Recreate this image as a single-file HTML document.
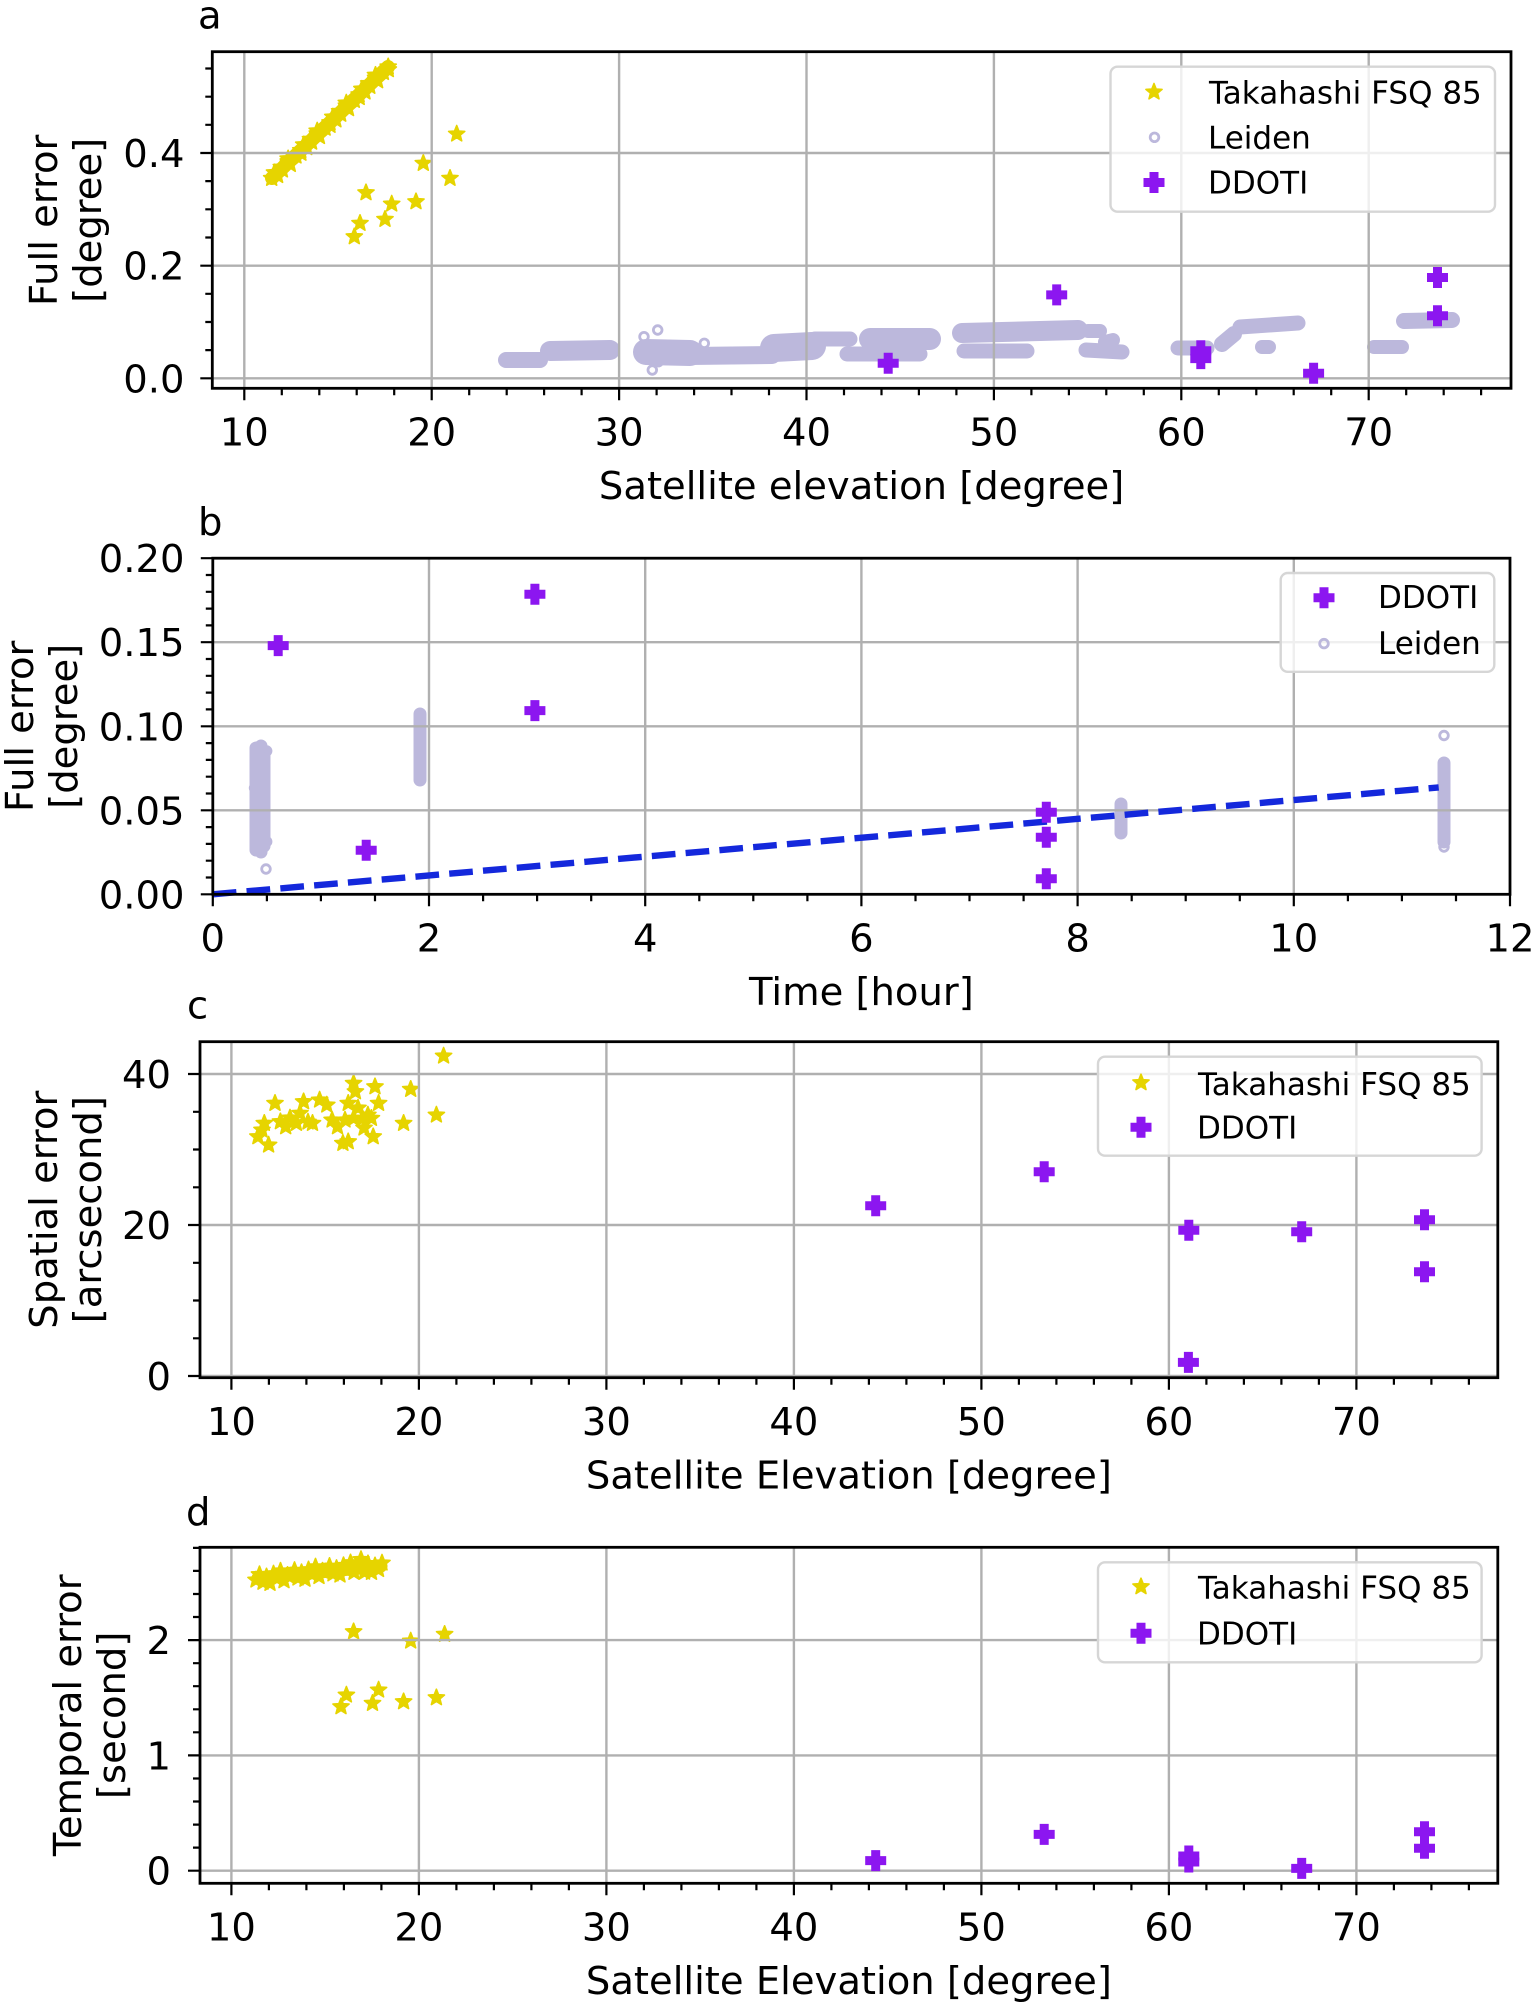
<!DOCTYPE html>
<html><head><meta charset="utf-8"><style>
html,body{margin:0;padding:0;background:#fff}
svg{display:block}
text{font-family:"DejaVu Sans","Liberation Sans",sans-serif;fill:#000}
.tl{font-size:38.5px}
.al{font-size:38.5px}
.lg{font-size:31px}
.g{stroke:#b0b0b0;stroke-width:2.4;fill:none}
.sp{stroke:#000;stroke-width:2.8;fill:none}
.tk{stroke:#000;stroke-width:2.2;fill:none}
.lb{stroke:#bcb8dc;stroke-width:13;stroke-linecap:round;stroke-linejoin:round;fill:none}
.lgb{fill:#fff;fill-opacity:0.8;stroke:#d6d6d6;stroke-width:2.4}
</style></head><body>
<svg width="1533" height="2005" viewBox="0 0 1533 2005" xmlns="http://www.w3.org/2000/svg">
<defs>
<polygon id="st" points="0,-8.5 2.17,-2.99 8.08,-2.63 3.52,1.14 5,6.88 0,3.7 -5,6.88 -3.52,1.14 -8.08,-2.63 -2.17,-2.99" fill="#e6d400" stroke="#e6d400" stroke-width="1.6" stroke-linejoin="round"/>
<path id="pl" d="M-4,-10H4V-4H10V4H4V10H-4V4H-10V-4H-4Z" fill="#8c16f0" stroke="#8c16f0" stroke-width="1"/>
<circle id="rg" r="4.3" fill="none" stroke="#bcb8dc" stroke-width="2.8"/>
</defs>
<rect width="1533" height="2005" fill="#fff"/>

<!-- ================= PANEL A ================= -->
<text class="al" x="198" y="28.3">a</text>
<path d="M272,178 L388,67" stroke="#e6d400" stroke-width="14" stroke-linecap="round" fill="none"/>
<g>
<use href="#st" x="271.7" y="178.3"/><use href="#st" x="277.6" y="175.5"/><use href="#st" x="274.5" y="172.7"/><use href="#st" x="282.4" y="169.9"/><use href="#st" x="281.3" y="167.2"/><use href="#st" x="290.3" y="164.4"/><use href="#st" x="288.2" y="161.6"/><use href="#st" x="288.1" y="158.8"/><use href="#st" x="296" y="156"/><use href="#st" x="300.9" y="153.2"/><use href="#st" x="300.8" y="150.4"/><use href="#st" x="306.7" y="147.6"/><use href="#st" x="303.7" y="144.8"/><use href="#st" x="311.6" y="142.1"/><use href="#st" x="310.5" y="139.3"/><use href="#st" x="319.4" y="136.5"/><use href="#st" x="317.3" y="133.7"/><use href="#st" x="317.2" y="130.9"/><use href="#st" x="325.1" y="128.1"/><use href="#st" x="330" y="125.3"/><use href="#st" x="330" y="122.6"/><use href="#st" x="335.9" y="119.8"/><use href="#st" x="332.8" y="117"/><use href="#st" x="340.7" y="114.2"/><use href="#st" x="339.6" y="111.4"/><use href="#st" x="348.5" y="108.6"/><use href="#st" x="346.4" y="105.8"/><use href="#st" x="346.3" y="103"/><use href="#st" x="354.3" y="100.3"/><use href="#st" x="359.2" y="97.5"/><use href="#st" x="359.1" y="94.7"/><use href="#st" x="365" y="91.9"/><use href="#st" x="361.9" y="89.1"/><use href="#st" x="369.8" y="86.3"/><use href="#st" x="368.7" y="83.5"/><use href="#st" x="377.6" y="80.7"/><use href="#st" x="375.6" y="77.9"/><use href="#st" x="375.5" y="75.2"/><use href="#st" x="383.4" y="72.4"/><use href="#st" x="388.3" y="69.6"/><use href="#st" x="388.2" y="66.8"/>
<use href="#st" x="354.3" y="236.7"/><use href="#st" x="360" y="223.3"/><use href="#st" x="366" y="192.7"/><use href="#st" x="385" y="219.3"/><use href="#st" x="391.7" y="204"/><use href="#st" x="416" y="201.7"/><use href="#st" x="423.3" y="163.3"/><use href="#st" x="450" y="178.3"/><use href="#st" x="456.7" y="134"/>
</g>
<!-- Leiden a -->
<g class="lb">
<path d="M506,360 L540,360" style="stroke-width:16"/>
<path d="M550,351 L610,350" style="stroke-width:20"/>
<path d="M646,352 L690,353" style="stroke-width:26"/>
<path d="M690,356 L772,355" style="stroke-width:18"/>
<path d="M774,348 L812,346" style="stroke-width:28"/>
<path d="M815,339 L850,339" style="stroke-width:15"/>
<path d="M847,354 L920,354" style="stroke-width:15"/>
<path d="M870,339 L930,339" style="stroke-width:22"/>
<path d="M964,351 L1027,351" style="stroke-width:15"/>
<path d="M962,333 L1078,330" style="stroke-width:20"/>
<path d="M1088,331 L1100,331" style="stroke-width:14"/>
<path d="M1086,350 L1122,352" style="stroke-width:15"/>
<path d="M1105,342 L1113,340" style="stroke-width:14"/>
<path d="M1178,348 L1207,348" style="stroke-width:15"/>
<path d="M1222,344 L1234,334" style="stroke-width:16"/>
<path d="M1240,327 L1298,323" style="stroke-width:15"/>
<path d="M1262,347 L1269,347" style="stroke-width:14"/>
<path d="M1374,347 L1402,347" style="stroke-width:14"/>
<path d="M1404,321 L1452,320" style="stroke-width:16"/>
</g>
<use href="#rg" x="644" y="336.7"/><use href="#rg" x="657.7" y="330"/><use href="#rg" x="704.3" y="343.3"/><use href="#rg" x="652.3" y="370"/><use href="#rg" x="658.3" y="361.7"/>
<path class="g" d="M244.3,51.7V388.3M431.7,51.7V388.3M619.1,51.7V388.3M806.5,51.7V388.3M993.9,51.7V388.3M1181.3,51.7V388.3M1368.7,51.7V388.3M212.3,378.3H1511M212.3,265.7H1511M212.3,153H1511"/>
<use href="#pl" x="888.2" y="363.3"/><use href="#pl" x="1056.7" y="294.9"/><use href="#pl" x="1200.8" y="350.7"/><use href="#pl" x="1200.8" y="358.6"/><use href="#pl" x="1313.6" y="373.2"/><use href="#pl" x="1437.5" y="277.5"/><use href="#pl" x="1437.5" y="315.8"/>
<rect class="sp" x="212.3" y="51.7" width="1298.7" height="336.6"/>
<path class="tk" d="M200.3,378.3H212.3M200.3,265.7H212.3M200.3,153H212.3M205.3,350.1H212.3M205.3,322H212.3M205.3,293.8H212.3M205.3,237.5H212.3M205.3,209.3H212.3M205.3,181.1H212.3M205.3,124.8H212.3M205.3,96.7H212.3M205.3,68.5H212.3
M244.3,388.3V400.3M431.7,388.3V400.3M619.1,388.3V400.3M806.5,388.3V400.3M993.9,388.3V400.3M1181.3,388.3V400.3M1368.7,388.3V400.3
M281.8,388.3V395.3M319.3,388.3V395.3M356.7,388.3V395.3M394.2,388.3V395.3M469.2,388.3V395.3M506.7,388.3V395.3M544.1,388.3V395.3M581.6,388.3V395.3M656.6,388.3V395.3M694.1,388.3V395.3M731.5,388.3V395.3M769,388.3V395.3M844,388.3V395.3M881.5,388.3V395.3M918.9,388.3V395.3M956.4,388.3V395.3M1031.4,388.3V395.3M1068.9,388.3V395.3M1106.3,388.3V395.3M1143.8,388.3V395.3M1218.8,388.3V395.3M1256.3,388.3V395.3M1293.7,388.3V395.3M1331.2,388.3V395.3M1406.2,388.3V395.3M1443.7,388.3V395.3M1481.1,388.3V395.3"/>
<g class="tl" text-anchor="end">
<text x="184.5" y="392.3">0.0</text><text x="184.5" y="279.7">0.2</text><text x="184.5" y="167">0.4</text>
</g>
<g class="tl" text-anchor="middle">
<text x="244.3" y="445.7">10</text><text x="431.7" y="445.7">20</text><text x="619.1" y="445.7">30</text><text x="806.5" y="445.7">40</text><text x="993.9" y="445.7">50</text><text x="1181.3" y="445.7">60</text><text x="1368.7" y="445.7">70</text>
</g>
<text class="al" x="861.6" y="499" text-anchor="middle">Satellite elevation [degree]</text>
<text class="al" text-anchor="middle" transform="translate(57,220.3) rotate(-90)">Full error</text>
<text class="al" text-anchor="middle" transform="translate(101,220.3) rotate(-90)">[degree]</text>
<rect class="lgb" x="1110.5" y="66.7" width="384.5" height="145" rx="7"/>
<use href="#st" x="1154" y="92"/><use href="#rg" x="1154.5" y="137.3"/><use href="#pl" x="1154" y="182.5"/>
<text class="lg" x="1209" y="103.3">Takahashi FSQ 85</text>
<text class="lg" x="1208" y="148.5">Leiden</text>
<text class="lg" x="1208" y="193.5">DDOTI</text>

<!-- ================= PANEL B ================= -->
<text class="al" x="198" y="535">b</text>
<path class="lb" d="M256,748 L256,850 M264,752 L264,846 M261,746 L261,852 M420,714 L420,780 M1121,804 L1121,833 M1444,763 L1444,842"/>
<use href="#rg" x="266.7" y="751"/><use href="#rg" x="266.7" y="841.6"/><use href="#rg" x="266" y="869"/><use href="#rg" x="254.5" y="788"/><use href="#rg" x="1444" y="735.5"/><use href="#rg" x="1444" y="847"/>
<path class="g" d="M429,558.2V894.3M645.2,558.2V894.3M861.4,558.2V894.3M1077.6,558.2V894.3M1293.8,558.2V894.3M212.8,810.3H1510M212.8,726.3H1510M212.8,642.2H1510"/>
<line x1="212.8" y1="894.3" x2="1438.7" y2="787.4" stroke="#1428dc" stroke-width="6.4" stroke-dasharray="23.7 10.2"/>
<use href="#pl" x="278.2" y="645.6"/><use href="#pl" x="366.2" y="850.3"/><use href="#pl" x="534.9" y="594.3"/><use href="#pl" x="534.9" y="710.6"/><use href="#pl" x="1046.3" y="812.3"/><use href="#pl" x="1046.3" y="837.3"/><use href="#pl" x="1046.3" y="878.8"/>
<rect class="sp" x="212.8" y="558.2" width="1297.2" height="336.1"/>
<path class="tk" d="M200.8,894.3H212.8M200.8,810.3H212.8M200.8,726.3H212.8M200.8,642.2H212.8M200.8,558.2H212.8
M205.8,877.5H212.8M205.8,860.7H212.8M205.8,843.9H212.8M205.8,827.1H212.8M205.8,793.5H212.8M205.8,776.7H212.8M205.8,759.9H212.8M205.8,743.1H212.8M205.8,709.4H212.8M205.8,692.6H212.8M205.8,675.8H212.8M205.8,659H212.8M205.8,625.4H212.8M205.8,608.6H212.8M205.8,591.8H212.8M205.8,575H212.8
M212.8,894.3V906.3M429,894.3V906.3M645.2,894.3V906.3M861.4,894.3V906.3M1077.6,894.3V906.3M1293.8,894.3V906.3M1510,894.3V906.3
M266.9,894.3V901.3M320.9,894.3V901.3M375,894.3V901.3M483.1,894.3V901.3M537.1,894.3V901.3M591.2,894.3V901.3M699.3,894.3V901.3M753.3,894.3V901.3M807.4,894.3V901.3M915.5,894.3V901.3M969.5,894.3V901.3M1023.6,894.3V901.3M1131.7,894.3V901.3M1185.7,894.3V901.3M1239.8,894.3V901.3M1347.9,894.3V901.3M1401.9,894.3V901.3M1456,894.3V901.3"/>
<g class="tl" text-anchor="end">
<text x="184.5" y="908.3">0.00</text><text x="184.5" y="824.3">0.05</text><text x="184.5" y="740.3">0.10</text><text x="184.5" y="656.2">0.15</text><text x="184.5" y="572.2">0.20</text>
</g>
<g class="tl" text-anchor="middle">
<text x="212.8" y="951.7">0</text><text x="429" y="951.7">2</text><text x="645.2" y="951.7">4</text><text x="861.4" y="951.7">6</text><text x="1077.6" y="951.7">8</text><text x="1293.8" y="951.7">10</text><text x="1510" y="951.7">12</text>
</g>
<text class="al" x="861.4" y="1005" text-anchor="middle">Time [hour]</text>
<text class="al" text-anchor="middle" transform="translate(33,726.3) rotate(-90)">Full error</text>
<text class="al" text-anchor="middle" transform="translate(77,726.3) rotate(-90)">[degree]</text>
<rect class="lgb" x="1280.7" y="573" width="213.6" height="98.8" rx="7"/>
<use href="#pl" x="1324" y="597.8"/><use href="#rg" x="1324" y="643.6"/>
<text class="lg" x="1378" y="608">DDOTI</text>
<text class="lg" x="1378" y="654">Leiden</text>

<!-- ================= PANEL C ================= -->
<text class="al" x="187" y="1018.3">c</text>
<g>
<use href="#st" x="257.9" y="1136.7"/><use href="#st" x="264.3" y="1123.3"/><use href="#st" x="268.6" y="1145"/><use href="#st" x="275" y="1103.3"/><use href="#st" x="280.4" y="1121.7"/><use href="#st" x="285.7" y="1126.7"/><use href="#st" x="296.4" y="1123.3"/><use href="#st" x="300" y="1113.3"/><use href="#st" x="303.6" y="1101.7"/><use href="#st" x="312.5" y="1123.3"/><use href="#st" x="319.6" y="1100"/><use href="#st" x="326.8" y="1105"/><use href="#st" x="332.1" y="1120"/><use href="#st" x="337.5" y="1126.7"/><use href="#st" x="342.9" y="1143.3"/><use href="#st" x="348.2" y="1141.7"/><use href="#st" x="348.2" y="1103.3"/><use href="#st" x="353.6" y="1083.3"/><use href="#st" x="355.4" y="1091.7"/><use href="#st" x="353.6" y="1118.3"/><use href="#st" x="362.5" y="1118.3"/><use href="#st" x="367.9" y="1115"/><use href="#st" x="373.2" y="1136.7"/><use href="#st" x="375" y="1086.7"/><use href="#st" x="378.6" y="1103.3"/><use href="#st" x="371.4" y="1118.3"/><use href="#st" x="403.6" y="1123.3"/><use href="#st" x="410.7" y="1089.3"/><use href="#st" x="436.4" y="1115"/><use href="#st" x="443.6" y="1056"/>
<use href="#st" x="262" y="1130"/><use href="#st" x="290" y="1118"/><use href="#st" x="308" y="1122"/><use href="#st" x="345" y="1120"/><use href="#st" x="358" y="1108"/><use href="#st" x="364" y="1128"/>
</g>
<path class="g" d="M231.4,1041.7V1377.7M418.9,1041.7V1377.7M606.4,1041.7V1377.7M793.9,1041.7V1377.7M981.4,1041.7V1377.7M1168.9,1041.7V1377.7M1356.4,1041.7V1377.7M200,1376H1497.8M200,1225H1497.8M200,1074H1497.8"/>
<use href="#pl" x="875.7" y="1205.7"/><use href="#pl" x="1044.2" y="1171.7"/><use href="#pl" x="1188.8" y="1230.3"/><use href="#pl" x="1188.4" y="1362.4"/><use href="#pl" x="1301.7" y="1231.8"/><use href="#pl" x="1424.5" y="1219.7"/><use href="#pl" x="1424.5" y="1271.8"/>
<rect class="sp" x="200" y="1041.7" width="1297.8" height="336"/>
<path class="tk" d="M188,1376H200M188,1225H200M188,1074H200M193,1338.3H200M193,1300.5H200M193,1262.8H200M193,1187.3H200M193,1149.5H200M193,1111.8H200
M231.4,1377.7V1389.7M418.9,1377.7V1389.7M606.4,1377.7V1389.7M793.9,1377.7V1389.7M981.4,1377.7V1389.7M1168.9,1377.7V1389.7M1356.4,1377.7V1389.7
M268.9,1377.7V1384.7M306.4,1377.7V1384.7M343.9,1377.7V1384.7M381.4,1377.7V1384.7M456.4,1377.7V1384.7M493.9,1377.7V1384.7M531.4,1377.7V1384.7M568.9,1377.7V1384.7M643.9,1377.7V1384.7M681.4,1377.7V1384.7M718.9,1377.7V1384.7M756.4,1377.7V1384.7M831.4,1377.7V1384.7M868.9,1377.7V1384.7M906.4,1377.7V1384.7M943.9,1377.7V1384.7M1018.9,1377.7V1384.7M1056.4,1377.7V1384.7M1093.9,1377.7V1384.7M1131.4,1377.7V1384.7M1206.4,1377.7V1384.7M1243.9,1377.7V1384.7M1281.4,1377.7V1384.7M1318.9,1377.7V1384.7M1393.9,1377.7V1384.7M1431.4,1377.7V1384.7M1468.9,1377.7V1384.7"/>
<g class="tl" text-anchor="end">
<text x="171" y="1390">0</text><text x="171" y="1239">20</text><text x="171" y="1088">40</text>
</g>
<g class="tl" text-anchor="middle">
<text x="231.4" y="1435.1">10</text><text x="418.9" y="1435.1">20</text><text x="606.4" y="1435.1">30</text><text x="793.9" y="1435.1">40</text><text x="981.4" y="1435.1">50</text><text x="1168.9" y="1435.1">60</text><text x="1356.4" y="1435.1">70</text>
</g>
<text class="al" x="848.9" y="1488.4" text-anchor="middle">Satellite Elevation [degree]</text>
<text class="al" text-anchor="middle" transform="translate(57,1209.7) rotate(-90)">Spatial error</text>
<text class="al" text-anchor="middle" transform="translate(101,1209.7) rotate(-90)">[arcsecond]</text>
<rect class="lgb" x="1098" y="1056.7" width="383.6" height="99" rx="7"/>
<use href="#st" x="1141" y="1082.7"/><use href="#pl" x="1141" y="1127.3"/>
<text class="lg" x="1198" y="1095">Takahashi FSQ 85</text>
<text class="lg" x="1197" y="1138.3">DDOTI</text>

<!-- ================= PANEL D ================= -->
<text class="al" x="186" y="1525">d</text>
<path d="M258,1578 L381,1566" stroke="#e6d400" stroke-width="13" stroke-linecap="round" fill="none"/>
<g>
<use href="#st" x="256" y="1580"/><use href="#st" x="259.5" y="1574.6"/><use href="#st" x="263" y="1582.2"/><use href="#st" x="266.5" y="1576.8"/><use href="#st" x="270" y="1583.3"/><use href="#st" x="273.5" y="1573.9"/><use href="#st" x="277" y="1578.5"/><use href="#st" x="280.5" y="1571.1"/><use href="#st" x="284" y="1580.7"/><use href="#st" x="287.5" y="1575.3"/><use href="#st" x="291" y="1575.8"/><use href="#st" x="294.5" y="1570.4"/><use href="#st" x="298" y="1578"/><use href="#st" x="301.5" y="1572.6"/><use href="#st" x="305" y="1579.2"/><use href="#st" x="308.5" y="1569.8"/><use href="#st" x="312" y="1574.3"/><use href="#st" x="315.5" y="1566.9"/><use href="#st" x="319" y="1576.5"/><use href="#st" x="322.5" y="1571.1"/><use href="#st" x="326" y="1571.7"/><use href="#st" x="329.5" y="1566.3"/><use href="#st" x="333" y="1573.8"/><use href="#st" x="336.5" y="1568.4"/><use href="#st" x="340" y="1575"/><use href="#st" x="343.5" y="1565.6"/><use href="#st" x="347" y="1570.2"/><use href="#st" x="350.5" y="1562.8"/><use href="#st" x="354" y="1572.3"/><use href="#st" x="357.5" y="1566.9"/><use href="#st" x="361" y="1559.5"/><use href="#st" x="364.5" y="1572.1"/><use href="#st" x="368" y="1563.7"/><use href="#st" x="371.5" y="1572.3"/><use href="#st" x="375" y="1565.8"/><use href="#st" x="378.5" y="1569.4"/><use href="#st" x="382" y="1563"/>
<use href="#st" x="353.6" y="1631.7"/><use href="#st" x="410.7" y="1641"/><use href="#st" x="444.6" y="1634.3"/><use href="#st" x="341" y="1706.7"/><use href="#st" x="346.4" y="1695"/><use href="#st" x="372.5" y="1703.3"/><use href="#st" x="378.6" y="1690"/><use href="#st" x="403.6" y="1701.7"/><use href="#st" x="436.4" y="1697.7"/>
</g>
<path class="g" d="M231.4,1547.3V1883.3M418.9,1547.3V1883.3M606.4,1547.3V1883.3M793.9,1547.3V1883.3M981.4,1547.3V1883.3M1168.9,1547.3V1883.3M1356.4,1547.3V1883.3M200,1870.7H1497.8M200,1755.4H1497.8M200,1640.1H1497.8"/>
<use href="#pl" x="875.7" y="1860.6"/><use href="#pl" x="1044.2" y="1834.4"/><use href="#pl" x="1188.8" y="1862"/><use href="#pl" x="1188.8" y="1856"/><use href="#pl" x="1301.7" y="1868.4"/><use href="#pl" x="1424.5" y="1831.7"/><use href="#pl" x="1424.5" y="1848.3"/>
<rect class="sp" x="200" y="1547.3" width="1297.8" height="336"/>
<path class="tk" d="M188,1870.7H200M188,1755.4H200M188,1640.1H200M193,1847.6H200M193,1824.6H200M193,1801.5H200M193,1778.5H200M193,1732.3H200M193,1709.3H200M193,1686.2H200M193,1663.2H200M193,1617H200M193,1594H200M193,1570.9H200M193,1547.9H200
M231.4,1883.3V1895.3M418.9,1883.3V1895.3M606.4,1883.3V1895.3M793.9,1883.3V1895.3M981.4,1883.3V1895.3M1168.9,1883.3V1895.3M1356.4,1883.3V1895.3
M268.9,1883.3V1890.3M306.4,1883.3V1890.3M343.9,1883.3V1890.3M381.4,1883.3V1890.3M456.4,1883.3V1890.3M493.9,1883.3V1890.3M531.4,1883.3V1890.3M568.9,1883.3V1890.3M643.9,1883.3V1890.3M681.4,1883.3V1890.3M718.9,1883.3V1890.3M756.4,1883.3V1890.3M831.4,1883.3V1890.3M868.9,1883.3V1890.3M906.4,1883.3V1890.3M943.9,1883.3V1890.3M1018.9,1883.3V1890.3M1056.4,1883.3V1890.3M1093.9,1883.3V1890.3M1131.4,1883.3V1890.3M1206.4,1883.3V1890.3M1243.9,1883.3V1890.3M1281.4,1883.3V1890.3M1318.9,1883.3V1890.3M1393.9,1883.3V1890.3M1431.4,1883.3V1890.3M1468.9,1883.3V1890.3"/>
<g class="tl" text-anchor="end">
<text x="171" y="1884.7">0</text><text x="171" y="1769.4">1</text><text x="171" y="1654.1">2</text>
</g>
<g class="tl" text-anchor="middle">
<text x="231.4" y="1940.7">10</text><text x="418.9" y="1940.7">20</text><text x="606.4" y="1940.7">30</text><text x="793.9" y="1940.7">40</text><text x="981.4" y="1940.7">50</text><text x="1168.9" y="1940.7">60</text><text x="1356.4" y="1940.7">70</text>
</g>
<text class="al" x="848.9" y="1994" text-anchor="middle">Satellite Elevation [degree]</text>
<text class="al" text-anchor="middle" transform="translate(81,1715.3) rotate(-90)">Temporal error</text>
<text class="al" text-anchor="middle" transform="translate(125,1715.3) rotate(-90)">[second]</text>
<rect class="lgb" x="1098" y="1562.3" width="383.6" height="100" rx="7"/>
<use href="#st" x="1141" y="1586.7"/><use href="#pl" x="1141" y="1633.3"/>
<text class="lg" x="1198" y="1598.3">Takahashi FSQ 85</text>
<text class="lg" x="1197" y="1644.3">DDOTI</text>
</svg>
</body></html>
